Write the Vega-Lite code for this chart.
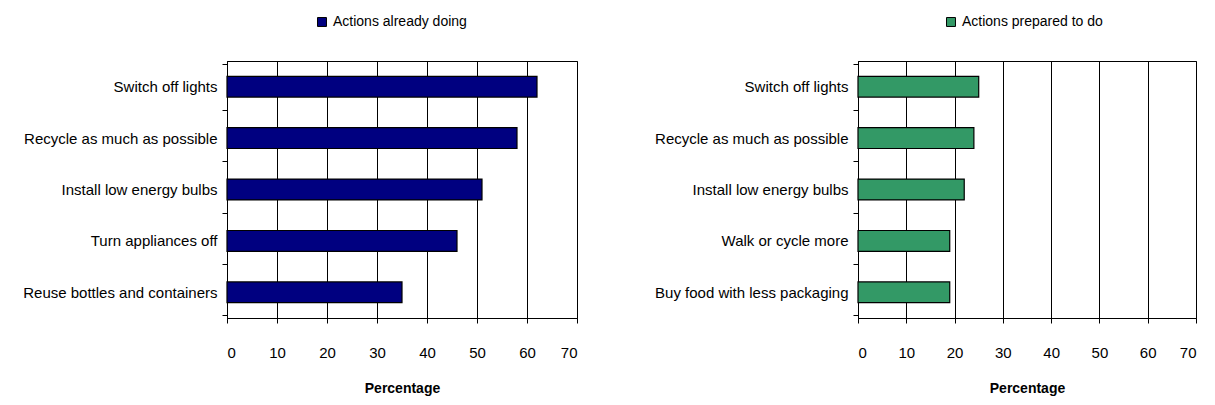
{
  "$schema": "https://vega.github.io/schema/vega-lite/v6.json",
  "padding": {"left": 22, "top": 14, "right": 5, "bottom": 5},
  "background": "white",
  "datasets": {
    "doing": [
      {"action": "Switch off lights", "pct": 62, "series": "Actions already doing"},
      {"action": "Recycle as much as possible", "pct": 58, "series": "Actions already doing"},
      {"action": "Install low energy bulbs", "pct": 51, "series": "Actions already doing"},
      {"action": "Turn appliances off", "pct": 46, "series": "Actions already doing"},
      {"action": "Reuse bottles and containers", "pct": 35, "series": "Actions already doing"}
    ],
    "prepared": [
      {"action": "Switch off lights", "pct": 25, "series": "Actions prepared to do"},
      {"action": "Recycle as much as possible", "pct": 24, "series": "Actions prepared to do"},
      {"action": "Install low energy bulbs", "pct": 22, "series": "Actions prepared to do"},
      {"action": "Walk or cycle more", "pct": 19, "series": "Actions prepared to do"},
      {"action": "Buy food with less packaging", "pct": 19, "series": "Actions prepared to do"}
    ]
  },
  "config": {
    "font": "Liberation Sans",
    "view": {"stroke": "black", "strokeWidth": 1},
    "axis": {
      "labelFont": "Liberation Sans",
      "titleFont": "Liberation Sans",
      "labelColor": "black",
      "titleColor": "black",
      "domainColor": "black",
      "tickColor": "black",
      "gridColor": "black",
      "gridOpacity": 1,
      "labelFontSize": 15,
      "titleFontSize": 14,
      "labelLimit": 0
    },
    "legend": {"labelFont": "Liberation Sans", "labelFontSize": 14, "labelColor": "black"}
  },
  "resolve": {"scale": {"color": "independent"}},
  "spacing": 76,
  "hconcat": [
    {
      "width": 350,
      "height": 257,
      "data": {"name": "doing"},
      "mark": {"type": "bar", "stroke": "black", "strokeWidth": 1.2, "height": {"band": 0.45}},
      "encoding": {
        "y": {
          "field": "action", "type": "nominal", "sort": null,
          "axis": {"title": null, "tickBand": "extent", "tickSize": 5, "labelPadding": 5, "grid": false, "domainWidth": 1}
        },
        "x": {
          "field": "pct", "type": "quantitative",
          "scale": {"domain": [0, 70], "nice": false},
          "axis": {"title": "Percentage", "values": [0, 10, 20, 30, 40, 50, 60, 70], "tickSize": 5, "labelPadding": 22, "titlePadding": 21, "titleFontWeight": "bold", "grid": true}
        },
        "color": {
          "field": "series", "type": "nominal",
          "scale": {"range": ["#000080"]},
          "legend": {"title": null, "orient": "none", "legendX": 88, "legendY": -46, "symbolType": "square", "symbolSize": 80, "symbolStrokeColor": "black", "symbolStrokeWidth": 1}
        }
      }
    },
    {
      "width": 338,
      "height": 257,
      "data": {"name": "prepared"},
      "mark": {"type": "bar", "stroke": "black", "strokeWidth": 1.2, "height": {"band": 0.45}},
      "encoding": {
        "y": {
          "field": "action", "type": "nominal", "sort": null,
          "axis": {"title": null, "tickBand": "extent", "tickSize": 5, "labelPadding": 5, "grid": false}
        },
        "x": {
          "field": "pct", "type": "quantitative",
          "scale": {"domain": [0, 70], "nice": false},
          "axis": {"title": "Percentage", "values": [0, 10, 20, 30, 40, 50, 60, 70], "tickSize": 5, "labelPadding": 22, "titlePadding": 21, "titleFontWeight": "bold", "grid": true}
        },
        "color": {
          "field": "series", "type": "nominal",
          "scale": {"range": ["#339966"]},
          "legend": {"title": null, "orient": "none", "legendX": 86, "legendY": -46, "symbolType": "square", "symbolSize": 80, "symbolStrokeColor": "black", "symbolStrokeWidth": 1}
        }
      }
    }
  ]
}
